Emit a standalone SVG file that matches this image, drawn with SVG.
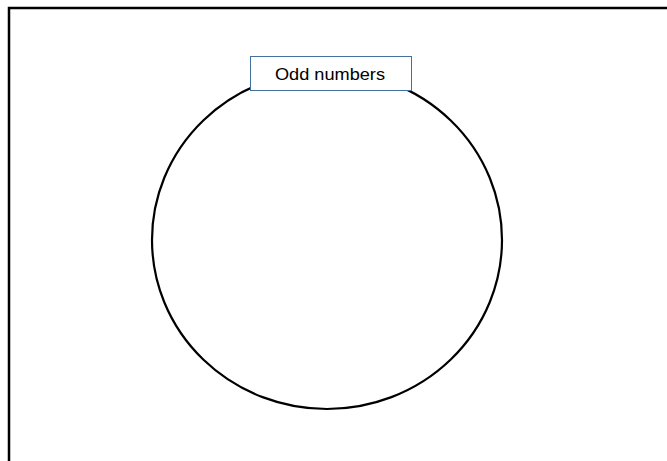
<svg xmlns="http://www.w3.org/2000/svg" width="667" height="461" viewBox="0 0 667 461">
<style>
.frame{fill:none;stroke:#000;stroke-width:2.5}
.circ{fill:none;stroke:#000;stroke-width:2.2}
.lbl{fill:#fff;stroke:#41719c;stroke-width:1}
.t{font-family:"Liberation Sans",Arial,sans-serif;font-size:17px;fill:#000}
</style>
<rect class="frame" x="9" y="8" width="700" height="500"/>
<g id="set-odd">
<ellipse class="circ" cx="327" cy="240" rx="175" ry="169"/>
</g>
<g id="label-odd">
<rect class="lbl" x="250.5" y="56.5" width="161" height="34"/>
<text class="t" x="330" y="80" text-anchor="middle" textLength="110" lengthAdjust="spacingAndGlyphs">Odd numbers</text>
</g>
</svg>
